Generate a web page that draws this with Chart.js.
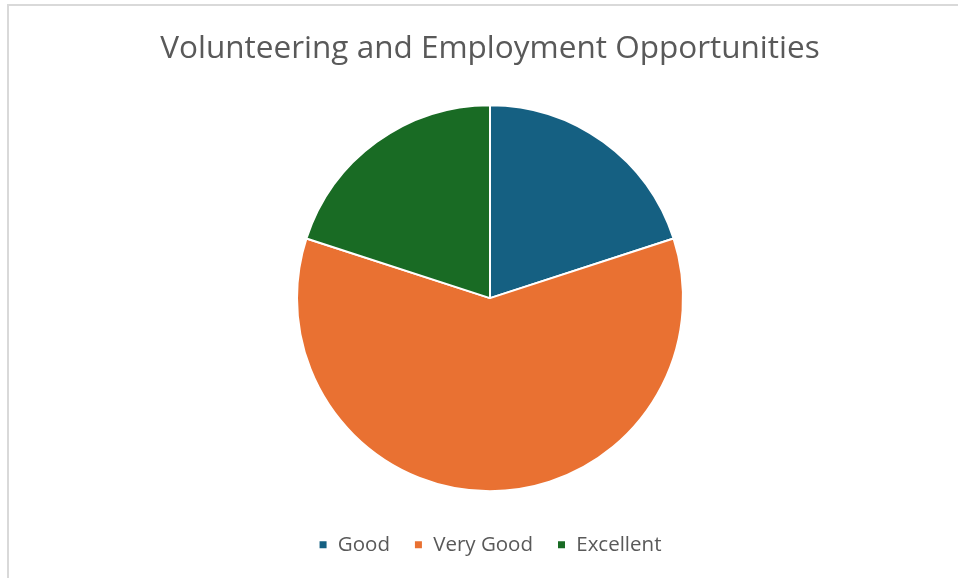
<!DOCTYPE html>
<html>
<head>
<meta charset="utf-8">
<script src="https://cdn.jsdelivr.net/npm/chart.js@4"></script>
<style>
  html, body { margin: 0; padding: 0; background: #fff; overflow: hidden; }
  #wrap { position: relative; width: 958px; height: 578px; }
  #frame {
    position: absolute; left: 7px; top: 4px; width: 1000px; height: 600px;
    border-left: 2px solid #d9d9d9; border-top: 2px solid #d9d9d9;
    pointer-events: none;
  }
  canvas { position: absolute; left: 0; top: 0; }
</style>
</head>
<body>
<div id="wrap">
  <div id="frame"></div>
  <canvas id="pieChart" width="958" height="578"></canvas>
</div>
<script>
// Chart data
const categories = ["Good", "Very Good", "Excellent"];
const shares = [1, 3, 1];
const sliceColors = ["#156082", "#E97132", "#196B24"];

const ctx = document.getElementById("pieChart").getContext("2d");
const pieChart = new Chart(ctx, {
  type: "pie",
  data: {
    labels: categories,
    datasets: [{
      data: shares,
      backgroundColor: sliceColors,
      borderColor: "#ffffff",
      borderWidth: 2,
      radius: 193,
    }],
  },
  options: {
    responsive: false,
    animation: false,
    layout: {
      padding: { left: 22, right: 0, top: 0, bottom: 13 },
    },
    plugins: {
      title: {
        display: true,
        text: "Volunteering and Employment Opportunities",
        color: "#595959",
        font: { family: "'Open Sans', sans-serif", size: 31.5, weight: "normal" },
        padding: { top: 30, bottom: 18 },
      },
      legend: {
        position: "bottom",
        labels: {
          color: "#595959",
          font: { family: "'Open Sans', sans-serif", size: 20.5 },
          boxWidth: 9,
          boxHeight: 9,
          padding: 24,
        },
      },
      tooltip: { enabled: false },
    },
  },
});
</script>
</body>
</html>
